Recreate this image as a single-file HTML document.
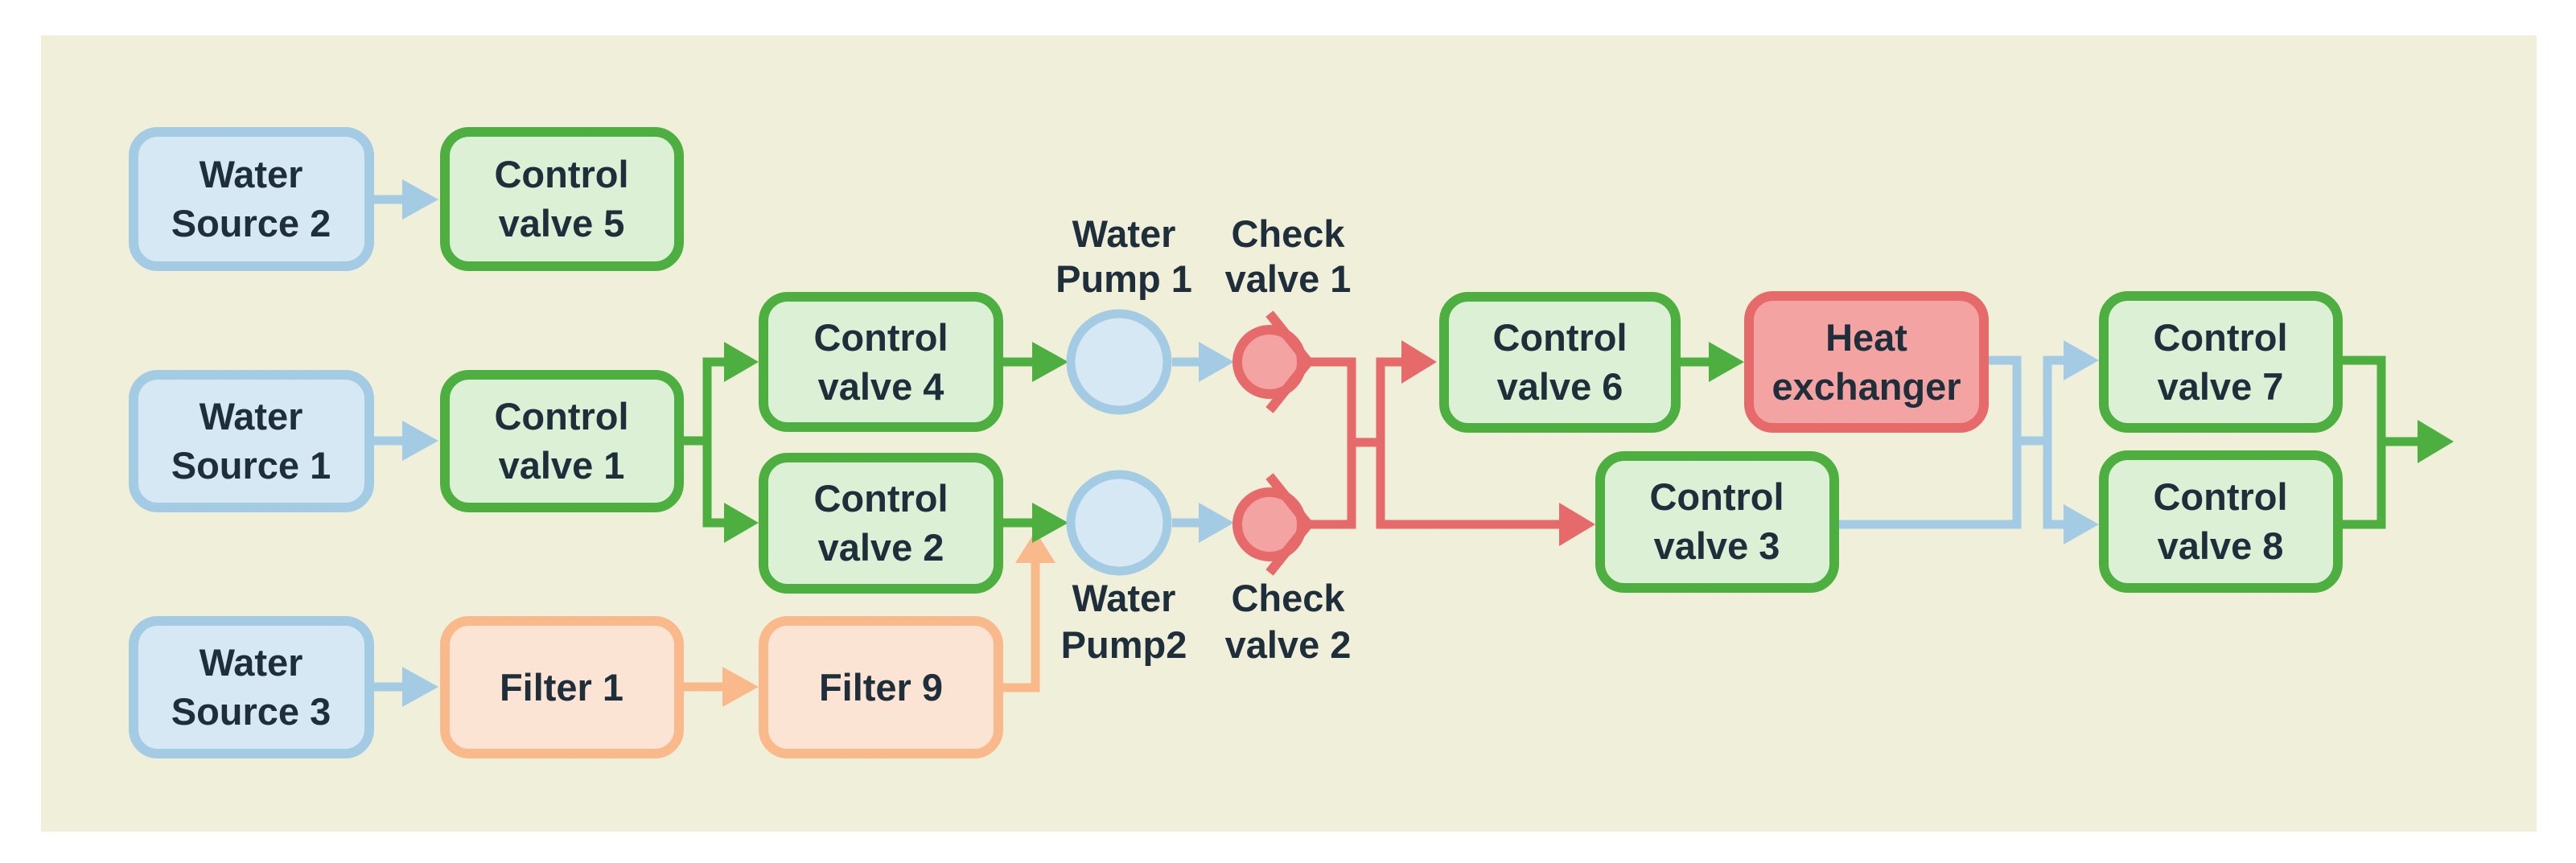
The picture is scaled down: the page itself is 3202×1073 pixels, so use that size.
<!DOCTYPE html>
<html><head><meta charset="utf-8"><style>
html,body{margin:0;padding:0;background:#fff;}
svg{display:block;}
text{font-family:"Liberation Sans",sans-serif;font-weight:bold;font-size:47px;fill:#1f2e3b;text-anchor:middle;}
</style></head><body>
<svg width="3202" height="1073" viewBox="0 0 3202 1073" xmlns="http://www.w3.org/2000/svg">
<rect x="51" y="44" width="3102" height="990" fill="#f0f0da"/>
<defs>
<style>
.b{fill:#d5e8f3;stroke:#a3cbe3;stroke-width:12}
.g{fill:#dcf0d6;stroke:#4caf3f;stroke-width:12}
.o{fill:#fce4d4;stroke:#f9b98a;stroke-width:12}
.r{fill:#f4a3a3;stroke:#e66a6a;stroke-width:12}
.lb{stroke:#a3cbe3;stroke-width:11;fill:none}
.lg{stroke:#4caf3f;stroke-width:11;fill:none}
.lo{stroke:#f9b98a;stroke-width:11;fill:none}
.lr{stroke:#e66a6a;stroke-width:11;fill:none}
</style>
</defs>
<g>
<line class="lb" x1="465" y1="248" x2="505" y2="248"/><polygon points="500,223 545,248 500,273" fill="#a3cbe3"/>
<line class="lb" x1="465" y1="548" x2="505" y2="548"/><polygon points="500,523 545,548 500,573" fill="#a3cbe3"/>
<line class="lb" x1="465" y1="854" x2="505" y2="854"/><polygon points="500,829 545,854 500,879" fill="#a3cbe3"/>
<line class="lo" x1="850" y1="854" x2="905" y2="854"/><polygon points="898,829 943,854 898,879" fill="#f9b98a"/>
<polyline class="lo" points="1247,855 1287,855 1287,695"/><polygon points="1262,700 1287,660 1312,700" fill="#f9b98a"/>
<polyline class="lg" points="850,548 879,548"/>
<polyline class="lg" points="905,450 879,450 879,650 905,650"/>
<polygon points="900,425 943,450 900,475" fill="#4caf3f"/>
<polygon points="900,625 943,650 900,675" fill="#4caf3f"/>
<line class="lg" x1="1247" y1="450" x2="1290" y2="450"/><polygon points="1283,425 1328,450 1283,475" fill="#4caf3f"/>
<line class="lg" x1="1247" y1="650" x2="1290" y2="650"/><polygon points="1283,625 1328,650 1283,675" fill="#4caf3f"/>
<line class="lb" x1="1457" y1="450" x2="1495" y2="450"/><polygon points="1490,425 1534,450 1490,475" fill="#a3cbe3"/>
<line class="lb" x1="1457" y1="650" x2="1495" y2="650"/><polygon points="1490,625 1534,650 1490,675" fill="#a3cbe3"/>
<polyline class="lr" points="1626,450 1680,450 1680,652 1626,652"/>
<line class="lr" x1="1680" y1="550" x2="1716" y2="550"/>
<polyline class="lr" points="1745,450 1716,450 1716,652 1940,652"/>
<polygon points="1742,423 1786,450 1742,477" fill="#e66a6a"/>
<polygon points="1938,625 1983,652 1938,679" fill="#e66a6a"/>
<line class="lg" x1="2089" y1="450" x2="2130" y2="450"/><polygon points="2124,425 2168,450 2124,475" fill="#4caf3f"/>
<polyline class="lb" points="2472,448 2507,448 2507,652 2286,652"/>
<line class="lb" x1="2507" y1="548" x2="2545" y2="548"/>
<polyline class="lb" points="2570,448 2545,448 2545,652 2570,652"/>
<polygon points="2565,423 2609,448 2565,473" fill="#a3cbe3"/>
<polygon points="2565,627 2609,652 2565,677" fill="#a3cbe3"/>
<polyline class="lg" points="2912,448 2960,448 2960,652 2912,652"/>
<line class="lg" x1="2960" y1="549" x2="3010" y2="549"/>
<polygon points="3005,522 3050,549 3005,576" fill="#4caf3f"/>
</g>
<rect class="b" x="166" y="164" width="293" height="167" rx="30"/>
<rect class="g" x="553" y="164" width="291" height="167" rx="30"/>
<rect class="b" x="166" y="466" width="293" height="165" rx="30"/>
<rect class="g" x="553" y="466" width="291" height="165" rx="30"/>
<rect class="g" x="949" y="369" width="292" height="162" rx="30"/>
<rect class="g" x="949" y="569" width="292" height="163" rx="30"/>
<rect class="b" x="166" y="772" width="293" height="165" rx="30"/>
<rect class="o" x="553" y="772" width="291" height="165" rx="30"/>
<rect class="o" x="949" y="772" width="292" height="165" rx="30"/>
<rect class="g" x="1795" y="369" width="288" height="163" rx="30"/>
<rect class="r" x="2174" y="368" width="292" height="164" rx="30"/>
<rect class="g" x="1989" y="567" width="291" height="164" rx="30"/>
<rect class="g" x="2615" y="368" width="291" height="164" rx="30"/>
<rect class="g" x="2615" y="566" width="291" height="165" rx="30"/>
<circle cx="1391" cy="450" r="60" fill="#d5e8f3" stroke="#a3cbe3" stroke-width="11"/>
<circle cx="1391" cy="650" r="60" fill="#d5e8f3" stroke="#a3cbe3" stroke-width="11"/>
<circle cx="1578" cy="450" r="40" fill="#f4a3a3" stroke="#e66a6a" stroke-width="12"/>
<polyline points="1578,390 1626,450 1578,510" fill="none" stroke="#e66a6a" stroke-width="12"/>
<circle cx="1578" cy="652" r="40" fill="#f4a3a3" stroke="#e66a6a" stroke-width="12"/>
<polyline points="1578,592 1626,652 1578,712" fill="none" stroke="#e66a6a" stroke-width="12"/>
<text x="312" y="233">Water</text><text x="312" y="294">Source 2</text>
<text x="698" y="233">Control</text><text x="698" y="294">valve 5</text>
<text x="312" y="534">Water</text><text x="312" y="595">Source 1</text>
<text x="698" y="534">Control</text><text x="698" y="595">valve 1</text>
<text x="1095" y="436">Control</text><text x="1095" y="497">valve 4</text>
<text x="1095" y="636">Control</text><text x="1095" y="697">valve 2</text>
<text x="312" y="840">Water</text><text x="312" y="901">Source 3</text>
<text x="698" y="871">Filter 1</text>
<text x="1095" y="871">Filter 9</text>
<text x="1397" y="307">Water</text><text x="1397" y="363">Pump 1</text>
<text x="1601" y="307">Check</text><text x="1601" y="363">valve 1</text>
<text x="1397" y="760">Water</text><text x="1397" y="818">Pump2</text>
<text x="1601" y="760">Check</text><text x="1601" y="818">valve 2</text>
<text x="1939" y="436">Control</text><text x="1939" y="497">valve 6</text>
<text x="2320" y="436">Heat</text><text x="2320" y="497">exchanger</text>
<text x="2134" y="634">Control</text><text x="2134" y="695">valve 3</text>
<text x="2760" y="436">Control</text><text x="2760" y="497">valve 7</text>
<text x="2760" y="634">Control</text><text x="2760" y="695">valve 8</text>
</svg>
</body></html>
